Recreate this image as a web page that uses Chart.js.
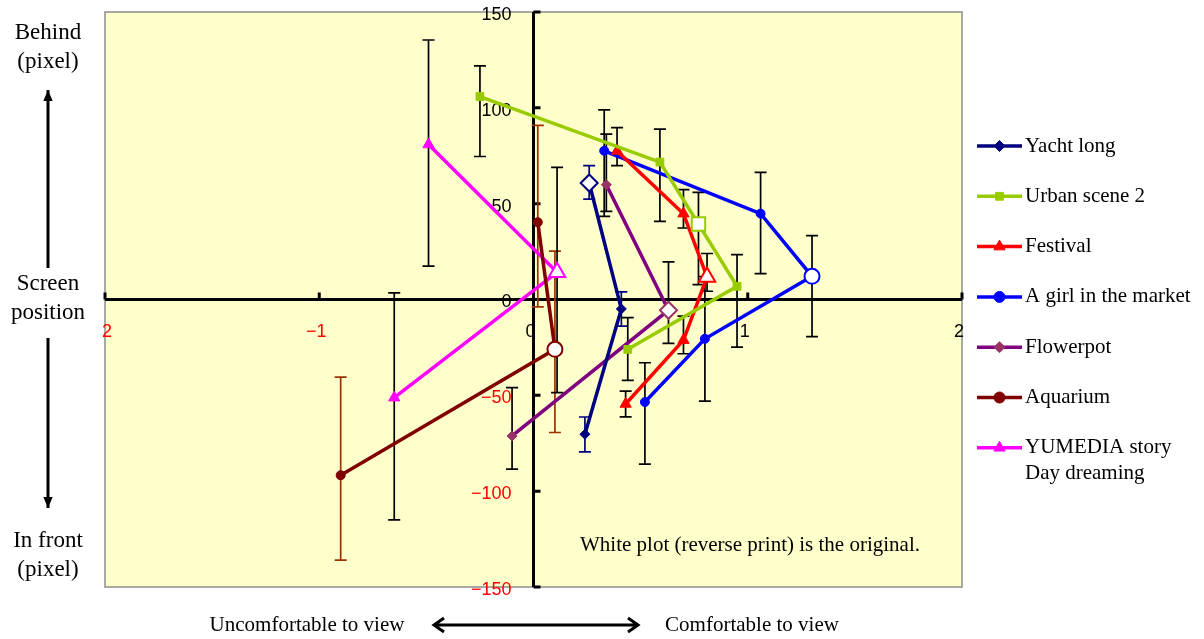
<!DOCTYPE html>
<html>
<head>
<meta charset="utf-8">
<script src="https://cdn.jsdelivr.net/npm/chart.js@4.4.1/dist/chart.umd.min.js"></script>
<style>
  html, body { margin: 0; padding: 0; background: #fff; }
  #wrap { width: 1204px; height: 639px; position: relative; }
</style>
</head>
<body>
<div id="wrap"><canvas id="myChart"></canvas></div>
<script>
// ticks
const xTicks = [-2, -1, 0, 1, 2]
const yTicks = [-150, -100, -50, 0, 50, 100, 150]

// series (x = comfort score, y = screen position in pixel, err = [low, high])
const yachtX = [0.26, 0.41, 0.24]
const yachtY = [60.8, -4.9, -70.3]
const yachtErr = [[52.4, 69.8], [-13.9, 4], [-79.5, -61.3]]

const urbanX = [-0.25, 0.59, 0.77, 0.95, 0.44]
const urbanY = [105.9, 71.7, 39.4, 6.9, -26]
const urbanErr = [[74.6, 121.9], [40.8, 88.9], [7.8, 55.9], [-24.8, 23.4], [-42.2, -9.5]]

const festivalX = [0.39, 0.70, 0.81, 0.70, 0.43]
const festivalY = [77.5, 44.8, 11.8, -21.2, -54.5]
const festivalErr = [[69.9, 89.7], [37.3, 57.3], [4.3, 24], [-28.3, -8.7], [-61.2, -47.8]]

const girlX = [0.33, 1.06, 1.30, 0.80, 0.52]
const girlY = [77.6, 44.8, 12.1, -20.5, -53.5]
const girlErr = [[43.4, 98.9], [13.5, 66.3], [-19.4, 33.3], [-53, 12], [-85.9, -33]]

const flowerX = [0.34, 0.63, -0.10]
const flowerY = [59.9, -5.6, -71.2]
const flowerErr = [[46, 86.3], [-22.9, 19.6], [-88.5, -46]]

const aquaX = [0.02, 0.10, -0.90]
const aquaY = [40.3, -26, -91.7]
const aquaErr = [[-3.8, 90.8], [-69.4, 25.2], [-136, -40.5]]

const yumeX = [-0.49, 0.11, -0.65]
const yumeY = [80.9, 14.2, -51.2]
const yumeErr = [[17.4, 135.4], [-48.6, 68.9], [-115, 3.5]]

// index of the original (white) point in each series
const originalIndex = [0, 2, 2, 2, 1, 1, 1]

const series = [
  { label: 'Yacht long', x: yachtX, y: yachtY, err: yachtErr, line: '#000080', marker: '#000080', errColor: '#000080', style: 'rectRot', r: 5, rOpen: 8.5 },
  { label: 'Urban scene 2', x: urbanX, y: urbanY, err: urbanErr, line: '#99CC00', marker: '#99CC00', errColor: '#000000', style: 'rect', r: 5.5, rOpen: 9.5 },
  { label: 'Festival', x: festivalX, y: festivalY, err: festivalErr, line: '#FF0000', marker: '#FF0000', errColor: '#000000', style: 'triangle', r: 6.5, rOpen: 9.5 },
  { label: 'A girl in the market', x: girlX, y: girlY, err: girlErr, line: '#0000FF', marker: '#0000FF', errColor: '#000000', style: 'circle', r: 4.5, rOpen: 7.5 },
  { label: 'Flowerpot', x: flowerX, y: flowerY, err: flowerErr, line: '#800080', marker: '#993366', errColor: '#000000', style: 'rectRot', r: 5, rOpen: 8.5 },
  { label: 'Aquarium', x: aquaX, y: aquaY, err: aquaErr, line: '#800000', marker: '#800000', errColor: '#993300', style: 'circle', r: 4.5, rOpen: 7.5 },
  { label: 'YUMEDIA story|Day dreaming', x: yumeX, y: yumeY, err: yumeErr, line: '#FF00FF', marker: '#FF00FF', errColor: '#000000', style: 'triangle', r: 6.5, rOpen: 9.5 }
]

const datasets = series.map(function (s, i) {
  const pts = s.x.map(function (v, j) { return { x: v, y: s.y[j] } })
  const open = originalIndex[i]
  return {
    label: s.label,
    data: pts,
    showLine: true,
    borderColor: s.line,
    borderWidth: 3.5,
    pointStyle: s.style,
    pointRadius: pts.map((p, j) => j === open ? s.rOpen : s.r),
    pointBackgroundColor: pts.map((p, j) => j === open ? '#FFFFFF' : s.marker),
    pointBorderColor: s.marker,
    pointBorderWidth: pts.map((p, j) => j === open ? 2 : 1),
    errBars: s.err,
    errColor: s.errColor
  }
})

const SERIF = '"Liberation Serif", "Times New Roman", serif'
const SANS = '"Liberation Sans", Arial, sans-serif'

// yellow plot area + axes crossing at zero
const backdrop = {
  id: 'backdrop',
  beforeDatasetsDraw(chart) {
    const { ctx, chartArea: a, scales } = chart
    const x0 = scales.x.getPixelForValue(0)
    const y0 = scales.y.getPixelForValue(0)
    ctx.save()
    ctx.fillStyle = '#FFFFCC'
    ctx.fillRect(a.left, a.top, a.right - a.left, a.bottom - a.top)
    ctx.strokeStyle = '#8c8c8c'
    ctx.lineWidth = 1.5
    ctx.strokeRect(a.left, a.top, a.right - a.left, a.bottom - a.top)

    ctx.strokeStyle = '#000'
    ctx.lineWidth = 3
    ctx.beginPath()
    ctx.moveTo(a.left, y0); ctx.lineTo(a.right, y0)
    ctx.moveTo(x0, a.top); ctx.lineTo(x0, a.bottom)
    yTicks.forEach(v => {
      if (v === 0) return
      const py = scales.y.getPixelForValue(v)
      ctx.moveTo(x0, py); ctx.lineTo(x0 + 7, py)
    })
    xTicks.forEach(v => {
      if (v === 0) return
      const px = scales.x.getPixelForValue(v)
      ctx.moveTo(px, y0); ctx.lineTo(px, y0 - 7)
    })
    ctx.stroke()

    // tick labels
    ctx.font = '18px ' + SANS
    ctx.textBaseline = 'middle'
    ctx.textAlign = 'right'
    yTicks.forEach(v => {
      const py = scales.y.getPixelForValue(v)
      ctx.fillStyle = v < 0 ? '#FF0000' : '#000'
      ctx.fillText(v < 0 ? '\u2212' + Math.abs(v) : String(v), x0 - 22, py + 3)
    })
    ctx.textAlign = 'center'
    xTicks.forEach(v => {
      const px = scales.x.getPixelForValue(v)
      ctx.fillStyle = v < 0 ? '#FF0000' : '#000'
      let t = v < 0 ? '\u2212' + Math.abs(v) : String(v)
      let dx = -3
      if (v === -2) { t = '2'; dx = 2 }
      ctx.fillText(t, px + dx, y0 + 33)
    })
    ctx.restore()

    // error bars
    ctx.save()
    ctx.lineWidth = 1.7
    chart.data.datasets.forEach(ds => {
      ctx.strokeStyle = ds.errColor
      ds.data.forEach((p, j) => {
        const px = scales.x.getPixelForValue(p.x)
        const lo = scales.y.getPixelForValue(ds.errBars[j][0])
        const hi = scales.y.getPixelForValue(ds.errBars[j][1])
        ctx.beginPath()
        ctx.moveTo(px, lo); ctx.lineTo(px, hi)
        ctx.moveTo(px - 6, lo); ctx.lineTo(px + 6, lo)
        ctx.moveTo(px - 6, hi); ctx.lineTo(px + 6, hi)
        ctx.stroke()
      })
    })
    ctx.restore()
  }
}

function arrow(ctx, x1, y1, x2, y2) {
  const ang = Math.atan2(y2 - y1, x2 - x1)
  ctx.beginPath()
  ctx.moveTo(x1, y1); ctx.lineTo(x2, y2)
  ctx.stroke()
  ctx.beginPath()
  ctx.moveTo(x2, y2)
  ctx.lineTo(x2 - 12 * Math.cos(ang - 0.4), y2 - 12 * Math.sin(ang - 0.4))
  ctx.lineTo(x2 - 12 * Math.cos(ang + 0.4), y2 - 12 * Math.sin(ang + 0.4))
  ctx.closePath()
  ctx.fill()
}

// legend, side captions and note
const captions = {
  id: 'captions',
  afterDraw(chart) {
    const { ctx } = chart
    ctx.save()
    ctx.fillStyle = '#000'
    ctx.strokeStyle = '#000'
    ctx.textBaseline = 'middle'

    // legend
    ctx.font = '21px ' + SERIF
    ctx.textAlign = 'left'
    chart.data.datasets.forEach((ds, i) => {
      const y = 146 + i * 50.3
      ctx.strokeStyle = ds.borderColor
      ctx.lineWidth = 3.5
      ctx.beginPath()
      ctx.moveTo(977, y); ctx.lineTo(1022, y)
      ctx.stroke()
      ctx.fillStyle = ds.pointBorderColor
      ctx.strokeStyle = ds.pointBorderColor
      ctx.lineWidth = 1
      Chart.helpers.drawPoint(ctx, { pointStyle: ds.pointStyle, radius: ds.pointStyle === 'triangle' ? 6.5 : 5.5, rotation: 0, borderWidth: 1 }, 999.5, y)
      ctx.fillStyle = '#000'
      ds.label.split('|').forEach((t, k) => ctx.fillText(t, 1025, y + k * 26))
    })

    // left captions
    ctx.font = '23px ' + SERIF
    ctx.textAlign = 'center'
    ctx.fillText('Behind', 48, 33)
    ctx.fillText('(pixel)', 48, 62)
    ctx.fillText('Screen', 48, 284)
    ctx.fillText('position', 48, 313)
    ctx.fillText('In front', 48, 541)
    ctx.fillText('(pixel)', 48, 570)
    ctx.strokeStyle = '#000'
    ctx.lineWidth = 3
    arrow(ctx, 48, 268, 48, 90)
    arrow(ctx, 48, 338, 48, 508)

    // bottom captions
    ctx.font = '21px ' + SERIF
    ctx.fillText('Uncomfortable to view', 307, 625)
    ctx.fillText('Comfortable to view', 752, 625)
    ctx.lineWidth = 3
    ctx.beginPath()
    ctx.moveTo(434, 625); ctx.lineTo(638, 625)
    ctx.moveTo(444, 618); ctx.lineTo(434, 625); ctx.lineTo(444, 632)
    ctx.moveTo(628, 618); ctx.lineTo(638, 625); ctx.lineTo(628, 632)
    ctx.stroke()

    // note
    ctx.font = '21px ' + SERIF
    ctx.fillText('White plot (reverse print) is the original.', 750, 545)
    ctx.restore()
  }
}

const config = {
  type: 'scatter',
  data: { datasets: datasets },
  options: {
    responsive: true,
    maintainAspectRatio: false,
    animation: false,
    layout: { padding: { left: 105, top: 12, right: 242, bottom: 52 } },
    scales: {
      x: { type: 'linear', min: -2, max: 2, display: false },
      y: { type: 'linear', min: -150, max: 150, display: false }
    },
    plugins: { legend: { display: false }, tooltip: { enabled: false } }
  },
  plugins: [backdrop, captions]
}

const myChart = new Chart(document.getElementById('myChart'), config)
</script>
</body>
</html>
